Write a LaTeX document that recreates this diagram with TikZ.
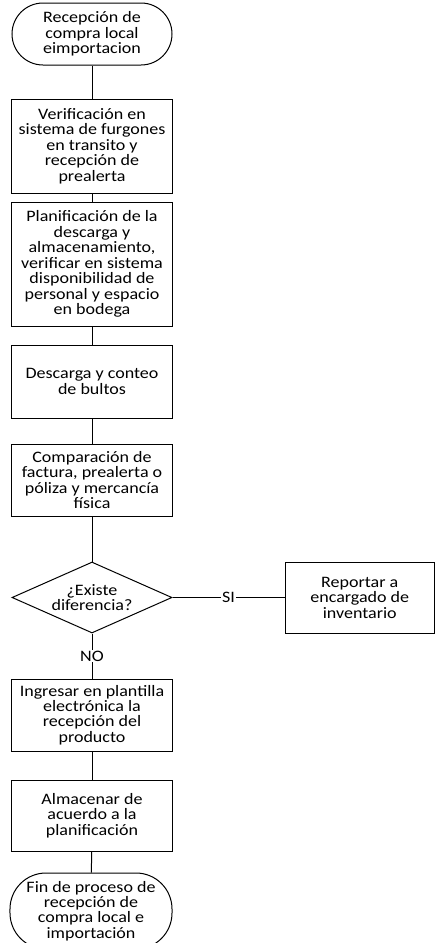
\documentclass[tikz,border=0pt]{standalone}
\usepackage{fontspec}
\setmainfont[FakeStretch=1.13]{Carlito}
\usetikzlibrary{shapes.geometric}
\begin{document}
\begin{tikzpicture}[x=1bp,y=-1bp,
  every node/.style={font=\fontsize{16}{15.5}\selectfont, align=center, inner sep=0pt},
  stepbox/.style={draw, line width=1bp, fill=white, minimum width=160bp, minimum height=#1},
  terminal/.style={draw, line width=1bp, fill=white, rounded corners=#1},
  decision/.style={draw, line width=1bp, fill=white, diamond, minimum width=160bp, minimum height=71bp},
  link/.style={line width=1bp},
  lbl/.style={fill=white, inner sep=1bp}]
\useasboundingbox (0,0) rectangle (435,943);

% start and end terminals
\node[terminal=31bp, minimum width=160bp, minimum height=62bp] (start) at (92,34)
  {Recepción de\\compra local\\eimportacion};

% process steps
\node[stepbox=94bp]  (verif) at (92,146)   {Verificación en\\sistema de furgones\\en transito y\\recepción de\\prealerta};
\node[stepbox=124bp] (plan)  at (92,264)   {Planificación de la\\descarga y\\almacenamiento,\\verificar en sistema\\disponibilidad de\\personal y espacio\\en bodega};
\node[stepbox=73bp]  (desc)  at (92,381.5) {Descarga y conteo\\de bultos};
\node[stepbox=72bp]  (comp)  at (92,480)   {Comparación de\\factura, prealerta o\\póliza y mercancía\\física};

% decision
\node[decision] (dia) at (92,597.5) {};
\node (diatext) at (dia.center) {¿Existe\\diferencia?};

\node[draw, line width=1bp, fill=white, minimum width=149.5bp, minimum height=71bp] (rep) at (359.75,597.5)
  {Reportar a\\encargado de\\inventario};

\node[stepbox=72bp]  (ingr)  at (92,715)   {Ingresar en plantilla\\electrónica la\\recepción del\\producto};
\node[stepbox=71bp]  (alm)   at (92,815.5) {Almacenar de\\acuerdo a la\\planificación};

\node[terminal=36bp, minimum width=162bp, minimum height=76bp] (fin) at (91,911)
  {Fin de proceso de\\recepción de\\compra local e\\importación};

% connectors
\draw[link] (start) -- (verif);
\draw[link] (verif) -- (plan);
\draw[link] (plan) -- (desc);
\draw[link] (desc) -- (comp);
\draw[link] (comp) -- (dia);
\draw[link] (dia.east) -- node[lbl] (si) {SI} (rep.west);
\draw[link] (dia.south) -- node[lbl] (no) {NO} (ingr.north);
\draw[link] (ingr) -- (alm);
\draw[link] (alm) -- (fin);
\end{tikzpicture}
\end{document}
